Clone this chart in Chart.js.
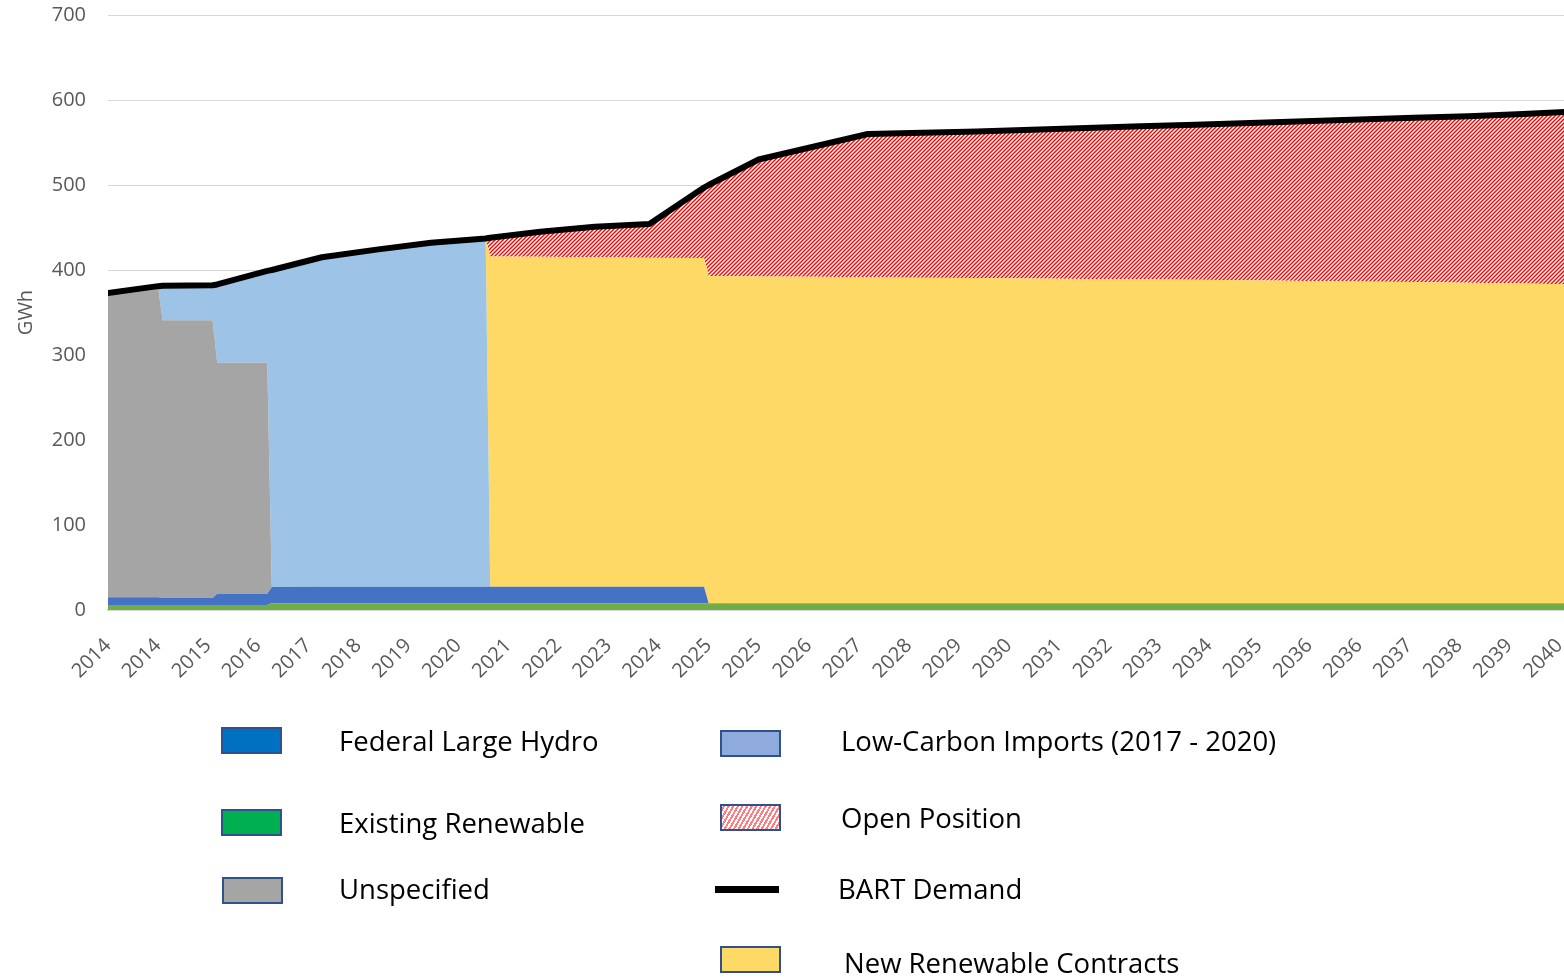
<!DOCTYPE html>
<html>
<head>
<meta charset="utf-8">
<script src="https://cdn.jsdelivr.net/npm/chart.js@4.4.1/dist/chart.umd.min.js"></script>
<style>
    body{ margin:0; background:#fff; }
    #wrap{ position:relative; width:1564px; height:979px; overflow:hidden; font-family:"Open Sans", sans-serif; }
    #chart{ position:absolute; left:0; top:0; }
    .lg-box{ position:absolute; width:57px; height:23px; border:2px solid #2F528F; box-sizing:content-box; }
    .lg-text{ position:absolute; font-size:27.5px; color:#000; line-height:30px; white-space:nowrap; }
    .lg-line{ position:absolute; width:64px; height:7px; background:#000; }
</style>
</head>
<body>
<div id="wrap">
    <canvas id="chart" width="1564" height="979"></canvas>

    <div class="lg-box" style="left:221px;top:727px;background:#0070C0"></div>
    <div class="lg-text" style="left:339px;top:726px">Federal Large Hydro</div>

    <div class="lg-box" style="left:221px;top:809px;background:#00B050"></div>
    <div class="lg-text" style="left:339px;top:808px">Existing Renewable</div>

    <div class="lg-box" style="left:222px;top:877px;background:#A5A5A5"></div>
    <div class="lg-text" style="left:339px;top:874px">Unspecified</div>

    <div class="lg-box" style="left:720px;top:730px;background:#8FAADC"></div>
    <div class="lg-text" style="left:841px;top:726px">Low-Carbon Imports (2017 - 2020)</div>

    <div class="lg-box" style="left:720px;top:804px;background:repeating-linear-gradient(-60deg,#fff 0px,#fff 2px,#FF7C80 2px,#FF7C80 4px)"></div>
    <div class="lg-text" style="left:841px;top:803px">Open Position</div>

    <div class="lg-line" style="left:715px;top:886px"></div>
    <div class="lg-text" style="left:838px;top:874px">BART Demand</div>

    <div class="lg-box" style="left:720px;top:946px;background:#FFD966"></div>
    <div class="lg-text" style="left:844px;top:948px">New Renewable Contracts</div>
</div>

<script>
// points of the series (year-month), two points where a contract starts or ends
const dates = ['2014-01','2014-12','2015-01','2015-12','2016-01','2016-12','2017-01','2017-12',
    '2018-12','2019-12','2020-12','2021-01','2021-12','2022-12','2023-12','2024-12','2025-01',
    '2025-12','2026-12','2027-12','2028-12','2029-12','2030-12','2031-12','2032-12','2033-12',
    '2034-12','2035-12','2036-12','2037-12','2038-12','2039-12','2040-12'];

// GWh
const existingRenewable = [6,6,6,6,6,6,8,8,8,8,8,8,8,8,8,8,8,8,8,8,8,8,8,8,8,8,8,8,8,8,8,8,8];
const federalHydro = [9,9,8,8,13,13,19,19.5,19.5,19.5,19.5,19.5,19.5,19.5,19.5,19.5,
    0,0,0,0,0,0,0,0,0,0,0,0,0,0,0,0,0];
const unspecified = [358,365,327,327,272,272,0,0,0,0,0,0,0,0,0,0,0,0,0,0,0,0,0,0,0,0,0,0,0,0,0,0,0];
const lowCarbon = [0,0,40,41,92,108,373,387.5,396.5,404.5,409.5,
    0,0,0,0,0,0,0,0,0,0,0,0,0,0,0,0,0,0,0,0,0,0];
const newRenewable = [0,0,0,0,0,0,0,0,0,0,0,
    388.5,388,387.5,387,386.5,385,384.5,384,383.5,383,382.5,382,381.5,381,380.5,380,379,378.5,378,377,376,375];
const openPosition = [0,0,0,0,0,0,0,0,0,0,0,
    22,29.5,36,39.5,83,107,137.5,153,168.5,170.5,172.5,175,177.5,180,182.5,185,188,190.5,193,196,199.5,203.5];
const bartDemand = [373,381,381.5,382,383,399,400,415,424,432,437,438,445,451,454,497,500,530,545,
    560,561.5,563,565,567,569,571,573,575,577,579,581,583.5,586.5];

// date axis, one label every 11 months from Jan 2014
const tickLabels = ['2014','2014','2015','2016','2017','2018','2019','2020','2021','2022','2023','2024',
    '2025','2025','2026','2027','2028','2029','2030','2031','2032','2033','2034','2035','2036','2036',
    '2037','2038','2039','2040'];
const yTicks = [0,100,200,300,400,500,600,700];

function monthIndex(d){
    const [y, m] = d.split('-').map(Number);
    return (y - 2014) * 12 + (m - 1);
}
const xs = dates.map(monthIndex);

function points(values){
    return values.map((v, i) => ({x: xs[i], y: v}));
}

const OPEN = 5;

// red diagonal hatch for the open position, clipped to its stacked band
const hatchPlugin = {
    id: 'hatch',
    afterDatasetDraw(chart, args){
        if(args.index !== OPEN) return;
        const top = chart.getDatasetMeta(OPEN).data;
        const bottom = chart.getDatasetMeta(OPEN - 1).data;
        const area = chart.chartArea;
        const c = chart.ctx;
        c.save();
        c.beginPath();
        c.rect(area.left, area.top, area.right - area.left, area.bottom - area.top);
        c.clip();
        c.beginPath();
        top.forEach((p, i) => i ? c.lineTo(p.x, p.y) : c.moveTo(p.x, p.y));
        for(let i = bottom.length - 1; i >= 0; i--){
            c.lineTo(bottom[i].x, bottom[i].y);
        }
        c.closePath();
        c.clip();
        c.strokeStyle = '#FF0000';
        c.lineWidth = 1.4;
        const h = area.bottom - area.top;
        for(let x = area.left - h; x < area.right + 4; x += 4){
            c.beginPath();
            c.moveTo(x, area.bottom);
            c.lineTo(x + h, area.top);
            c.stroke();
        }
        c.restore();
    }
};

function area(label, values, color, fill){
    return {
        label: label,
        data: points(values),
        backgroundColor: color,
        borderColor: 'rgba(0,0,0,0)',
        borderWidth: 0,
        pointRadius: 0,
        fill: fill,
        stack: 'supply'
    };
}

const ctx = document.getElementById('chart').getContext('2d');

new Chart(ctx, {
    type: 'line',
    data: {
        datasets: [
            area('Existing Renewable', existingRenewable, '#70AD47', 'origin'),
            area('Federal Large Hydro', federalHydro, '#4472C4', '-1'),
            area('Unspecified', unspecified, '#A5A5A5', '-1'),
            area('Low-Carbon Imports (2017 - 2020)', lowCarbon, '#9DC3E6', '-1'),
            area('New Renewable Contracts', newRenewable, '#FFD966', '-1'),
            area('Open Position', openPosition, '#FFFFFF', '-1'),
            {
                label: 'BART Demand',
                data: points(bartDemand),
                borderColor: '#000',
                borderWidth: 6,
                pointRadius: 0,
                fill: false,
                stack: 'demand',
                order: -1
            }
        ]
    },
    plugins: [hatchPlugin],
    options: {
        responsive: false,
        animation: false,
        devicePixelRatio: 1,
        elements: { line: { tension: 0, borderJoinStyle: 'round', borderCapStyle: 'round' } },
        layout: { padding: { top: 15, left: 0, right: 0, bottom: 0 } },
        plugins: {
            legend: { display: false },
            tooltip: { enabled: false }
        },
        scales: {
            x: {
                type: 'linear',
                min: 0,
                max: 320,
                afterBuildTicks: (scale) => {
                    scale.ticks = tickLabels.map((t, i) => ({value: i * 11}));
                },
                afterFit: (scale) => {
                    scale.height = 369;
                    scale.paddingRight = 0;
                },
                ticks: {
                    autoSkip: false,
                    maxRotation: 45,
                    minRotation: 45,
                    padding: 24,
                    color: '#595959',
                    font: { family: 'Open Sans', size: 20 },
                    callback: (v, i) => tickLabels[i]
                },
                grid: { display: false, drawTicks: false },
                border: { display: true, color: '#D9D9D9', width: 2 }
            },
            y: {
                stacked: true,
                min: 0,
                max: 700,
                afterBuildTicks: (scale) => {
                    scale.ticks = yTicks.map(v => ({value: v}));
                },
                afterFit: (scale) => {
                    scale.width = 108;
                    scale.paddingTop = 0;
                    scale.paddingBottom = 0;
                },
                ticks: {
                    padding: 22,
                    color: '#595959',
                    font: { family: 'Open Sans', size: 20 }
                },
                grid: { color: '#D9D9D9', lineWidth: 1, drawTicks: false },
                border: { display: false },
                title: {
                    display: true,
                    text: 'GWh',
                    color: '#595959',
                    font: { family: 'Open Sans', size: 20 },
                    padding: { top: 14, bottom: 0 }
                }
            }
        }
    }
});
</script>
</body>
</html>
